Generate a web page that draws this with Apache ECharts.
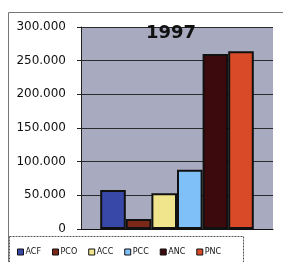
<!DOCTYPE html>
<html><head><meta charset="utf-8">
<script src="https://cdn.jsdelivr.net/npm/echarts@6/dist/echarts.min.js"></script>
<style>html,body{margin:0;padding:0;background:#fff;overflow:hidden}#c{width:283px;height:262px}</style>
</head><body><div id="c"></div>
<script>
var categories = ['1997'];
var seriesNames = ['ACF', 'PCO', 'ACC', 'PCC', 'ANC', 'PNC'];
var seriesValues = [58000, 15000, 53000, 88000, 260000, 264000];
var seriesColors = ['#3848a8', '#7a2818', '#f0e48c', '#80c0f8', '#3c0a0c', '#d84a28'];
var yTicks = [0, 50000, 100000, 150000, 200000, 250000, 300000];

function fmt(v) {
  if (v === 0) return '0';
  var s = String(v);
  return s.replace(/\B(?=(\d{3})+(?!\d))/g, '.');
}

var chart = echarts.init(document.getElementById('c'), null, {renderer: 'canvas'});
var series = seriesNames.map(function (n, i) {
  return {
    name: n, type: 'bar', data: [seriesValues[i]],
    barGap: '0%', barCategoryGap: '20%',
    itemStyle: {color: seriesColors[i], borderColor: '#111', borderWidth: 2}
  };
});
chart.setOption({
  animation: false,
  title: {
    text: categories[0], left: 141, top: 19,
    textStyle: {fontFamily: 'DejaVu Sans', fontWeight: 'bold', fontSize: 18, color: '#111'}
  },
  grid: {left: 81, right: 10, top: 27, bottom: 33, show: true, backgroundColor: '#a8abbf', borderWidth: 0},
  xAxis: {
    type: 'category', data: categories,
    axisLine: {lineStyle: {color: '#111', width: 1}},
    axisTick: {show: false}, axisLabel: {show: false}
  },
  yAxis: {
    type: 'value', min: yTicks[0], max: yTicks[yTicks.length - 1], interval: 50000,
    axisLine: {show: true, lineStyle: {color: '#222', width: 1}},
    axisTick: {show: true, length: 4, lineStyle: {color: '#222'}},
    splitLine: {lineStyle: {color: '#2a2a2a', width: 1}},
    axisLabel: {
      formatter: fmt, margin: 15,
      fontFamily: 'DejaVu Sans', fontSize: 12, color: '#111'
    }
  },
  legend: {
    data: seriesNames, left: 12, top: 243, itemGap: 11,
    itemWidth: 6, itemHeight: 6, icon: 'rect',
    textStyle: {fontFamily: 'DejaVu Sans', fontSize: 8, color: '#111', padding: [0, 0, 0, -3]},
    itemStyle: {borderColor: '#111', borderWidth: 1}
  },
  graphic: [
    {type: 'polyline', shape: {points: [[8.5, 270], [8.5, 12.5], [300, 12.5]]}, style: {stroke: '#777', lineWidth: 1, fill: null}, z: -1},
    {type: 'rect', shape: {x: 9.5, y: 236.5, width: 234, height: 40}, style: {fill: null, stroke: '#555', lineWidth: 1, lineDash: [2, 1]}}
  ],
  series: series
});
</script></body></html>
